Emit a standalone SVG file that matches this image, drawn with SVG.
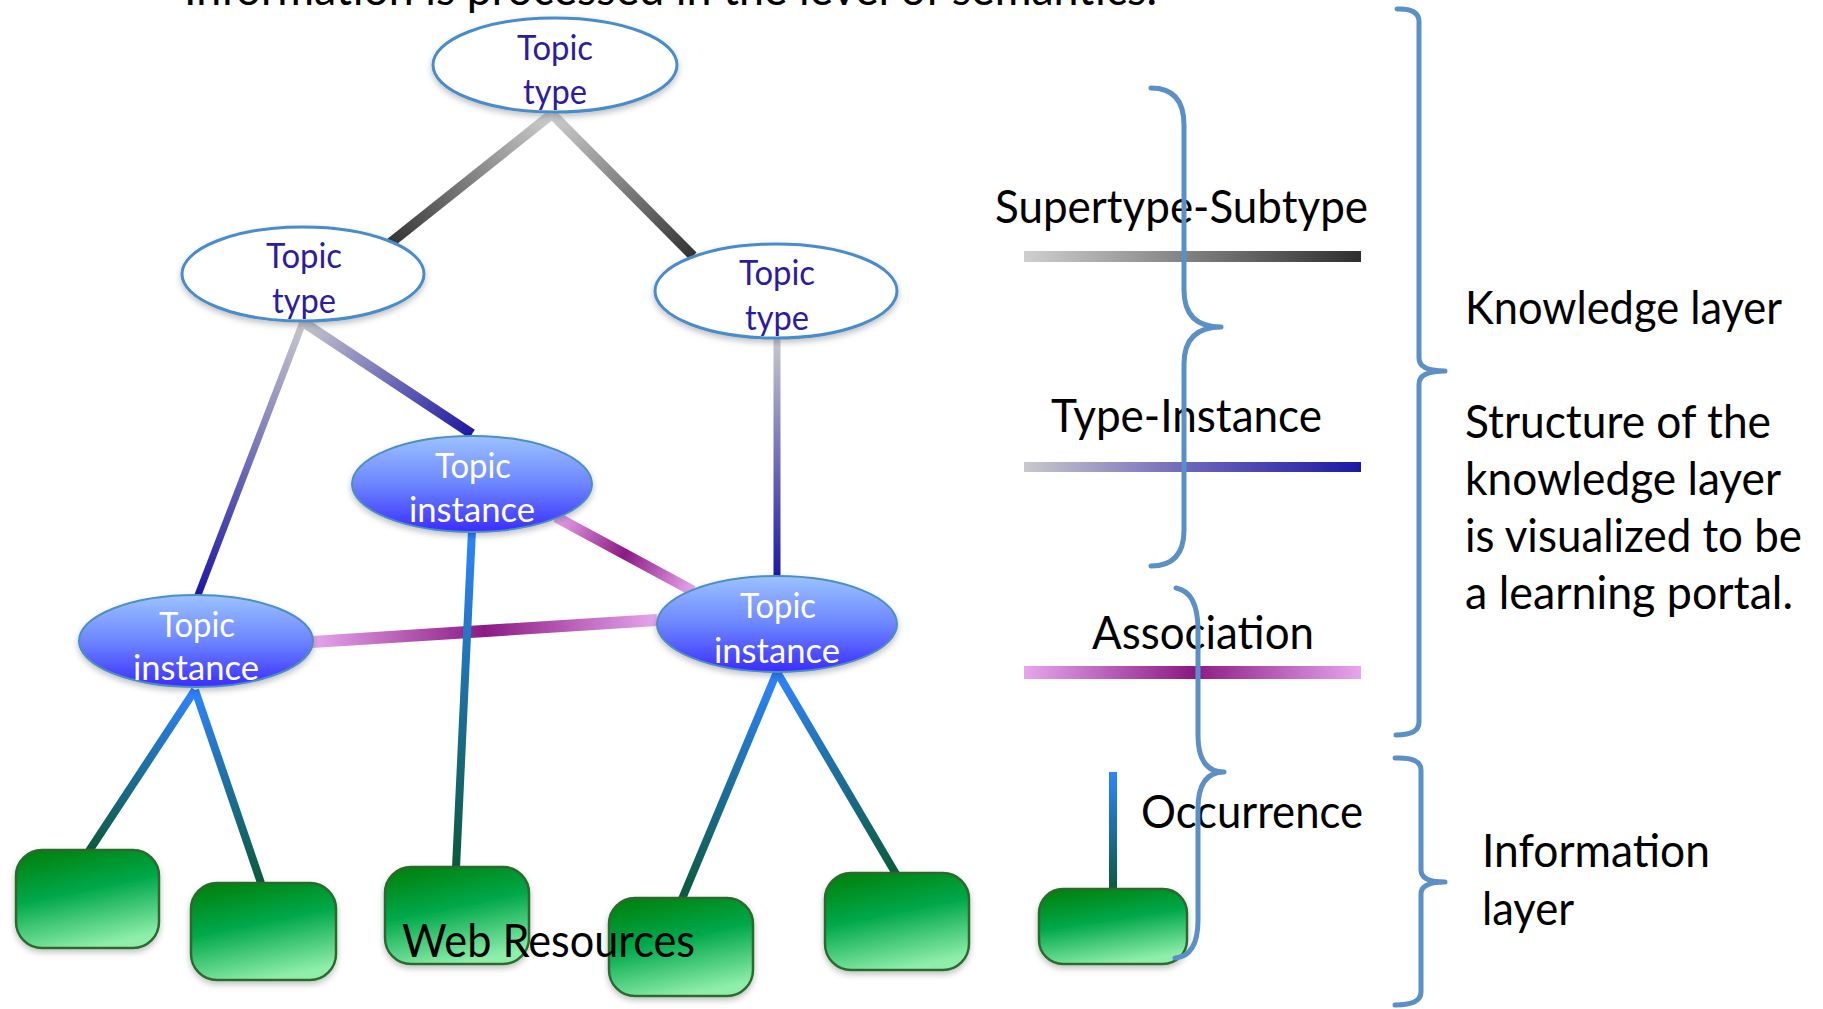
<svg xmlns="http://www.w3.org/2000/svg" width="1823" height="1009" viewBox="0 0 1823 1009">
<style>
  .t { font-family: Lato, "Open Sans", "Liberation Sans", sans-serif; }
  .big { font-size: 47px; fill: #000; }
  .lbl { font-size: 34px; text-anchor: middle; }
  .typ { fill: #2a1d9e; }
  .ins { fill: #ffffff; }
  .typeEl { fill: #ffffff; stroke: #4a8ccb; stroke-width: 3; }
  .instEl { fill: url(#instFill); stroke: #4d8fc0; stroke-width: 2; }
  .box { fill: url(#boxFill); stroke: #2c6b2f; stroke-width: 2.5; }
  .brace { fill: none; stroke: #5b8fc8; stroke-width: 5; stroke-linecap: round; stroke-linejoin: round; }
  .ln { fill: none; }
</style>
<defs>
  <filter id="sh" x="-20%" y="-20%" width="140%" height="150%">
    <feDropShadow dx="0" dy="3" stdDeviation="3" flood-color="#000" flood-opacity="0.25"/>
  </filter>
  <linearGradient id="instFill" x1="0" y1="0" x2="0" y2="1">
    <stop offset="0" stop-color="#9cc2ff"/>
    <stop offset="0.5" stop-color="#6c86ff"/>
    <stop offset="1" stop-color="#3a2cff"/>
  </linearGradient>
  <linearGradient id="boxFill" x1="0.2" y1="0" x2="0.5" y2="1">
    <stop offset="0" stop-color="#00820f"/>
    <stop offset="0.45" stop-color="#00a84a"/>
    <stop offset="1" stop-color="#8eeeaa"/>
  </linearGradient>
  <!-- legend bars -->
  <linearGradient id="legSup" x1="0" y1="0" x2="1" y2="0">
    <stop offset="0" stop-color="#cfcfcf"/>
    <stop offset="1" stop-color="#2e2e2e"/>
  </linearGradient>
  <linearGradient id="legTI" x1="0" y1="0" x2="1" y2="0">
    <stop offset="0" stop-color="#c8c8cc"/>
    <stop offset="0.5" stop-color="#6a64b8"/>
    <stop offset="1" stop-color="#1c18a4"/>
  </linearGradient>
  <linearGradient id="legAs" x1="0" y1="0" x2="1" y2="0">
    <stop offset="0" stop-color="#e6a6ec"/>
    <stop offset="0.5" stop-color="#8c1a84"/>
    <stop offset="1" stop-color="#e6a6ec"/>
  </linearGradient>
  <linearGradient id="legOc" x1="0" y1="0" x2="0" y2="1">
    <stop offset="0" stop-color="#2f84ff"/>
    <stop offset="1" stop-color="#0b5a3c"/>
  </linearGradient>
  <!-- connector gradients -->
  <linearGradient id="gS1" gradientUnits="userSpaceOnUse" x1="552" y1="114" x2="389" y2="244">
    <stop offset="0" stop-color="#cfcfcf"/><stop offset="1" stop-color="#333"/>
  </linearGradient>
  <linearGradient id="gS2" gradientUnits="userSpaceOnUse" x1="552" y1="114" x2="693" y2="256">
    <stop offset="0" stop-color="#cfcfcf"/><stop offset="1" stop-color="#333"/>
  </linearGradient>
  <linearGradient id="gT1" gradientUnits="userSpaceOnUse" x1="303" y1="322" x2="198" y2="595">
    <stop offset="0" stop-color="#c8c8cc"/><stop offset="1" stop-color="#1c18a4"/>
  </linearGradient>
  <linearGradient id="gT2" gradientUnits="userSpaceOnUse" x1="303" y1="322" x2="472" y2="434">
    <stop offset="0" stop-color="#c8c8cc"/><stop offset="1" stop-color="#1c18a4"/>
  </linearGradient>
  <linearGradient id="gT3" gradientUnits="userSpaceOnUse" x1="777" y1="339" x2="777" y2="577">
    <stop offset="0" stop-color="#c8c8cc"/><stop offset="1" stop-color="#1c18a4"/>
  </linearGradient>
  <linearGradient id="gA1" gradientUnits="userSpaceOnUse" x1="556" y1="517" x2="693" y2="591">
    <stop offset="0" stop-color="#e6a6ec"/><stop offset="0.5" stop-color="#8c1a84"/><stop offset="1" stop-color="#e6a6ec"/>
  </linearGradient>
  <linearGradient id="gA2" gradientUnits="userSpaceOnUse" x1="312" y1="642" x2="657" y2="620">
    <stop offset="0" stop-color="#e6a6ec"/><stop offset="0.5" stop-color="#8c1a84"/><stop offset="1" stop-color="#e6a6ec"/>
  </linearGradient>
  <linearGradient id="gO1" gradientUnits="userSpaceOnUse" x1="195" y1="690" x2="89" y2="851">
    <stop offset="0" stop-color="#2f84ff"/><stop offset="1" stop-color="#0b5a3c"/>
  </linearGradient>
  <linearGradient id="gO2" gradientUnits="userSpaceOnUse" x1="195" y1="690" x2="261" y2="883">
    <stop offset="0" stop-color="#2f84ff"/><stop offset="1" stop-color="#0b5a3c"/>
  </linearGradient>
  <linearGradient id="gO3" gradientUnits="userSpaceOnUse" x1="472" y1="530" x2="456" y2="868">
    <stop offset="0" stop-color="#2f84ff"/><stop offset="1" stop-color="#0b5a3c"/>
  </linearGradient>
  <linearGradient id="gO4" gradientUnits="userSpaceOnUse" x1="777" y1="672" x2="682" y2="899">
    <stop offset="0" stop-color="#2f84ff"/><stop offset="1" stop-color="#0b5a3c"/>
  </linearGradient>
  <linearGradient id="gO5" gradientUnits="userSpaceOnUse" x1="777" y1="672" x2="896" y2="874">
    <stop offset="0" stop-color="#2f84ff"/><stop offset="1" stop-color="#0b5a3c"/>
  </linearGradient>
</defs>

<rect x="0" y="0" width="1823" height="1009" fill="#ffffff"/>

<text class="t big" x="184" y="5" textLength="973" lengthAdjust="spacingAndGlyphs">Information is processed in the level of semantics.</text>

<g id="connectors">
  <line class="ln" x1="552" y1="114" x2="389" y2="244" stroke="url(#gS1)" stroke-width="10"/>
  <line class="ln" x1="552" y1="114" x2="693" y2="256" stroke="url(#gS2)" stroke-width="10"/>
  <line class="ln" x1="303" y1="322" x2="198" y2="595" stroke="url(#gT1)" stroke-width="7"/>
  <line class="ln" x1="303" y1="322" x2="472" y2="434" stroke="url(#gT2)" stroke-width="10"/>
  <line class="ln" x1="777" y1="339" x2="777" y2="577" stroke="url(#gT3)" stroke-width="7"/>
  <line class="ln" x1="556" y1="517" x2="693" y2="591" stroke="url(#gA1)" stroke-width="11"/>
  <line class="ln" x1="312" y1="642" x2="657" y2="620" stroke="url(#gA2)" stroke-width="12"/>
  <line class="ln" x1="195" y1="690" x2="89" y2="851" stroke="url(#gO1)" stroke-width="8"/>
  <line class="ln" x1="195" y1="690" x2="261" y2="883" stroke="url(#gO2)" stroke-width="8"/>
  <line class="ln" x1="472" y1="530" x2="456" y2="868" stroke="url(#gO3)" stroke-width="8"/>
  <line class="ln" x1="777" y1="672" x2="682" y2="899" stroke="url(#gO4)" stroke-width="8"/>
  <line class="ln" x1="777" y1="672" x2="896" y2="874" stroke="url(#gO5)" stroke-width="8"/>
</g>

<g id="type-top">
  <ellipse class="typeEl" cx="555" cy="65" rx="122" ry="47" filter="url(#sh)"/>
  <text class="t lbl typ" x="555" y="60" textLength="76" lengthAdjust="spacingAndGlyphs">Topic</text>
  <text class="t lbl typ" x="555" y="104" textLength="64" lengthAdjust="spacingAndGlyphs">type</text>
</g>
<g id="type-left">
  <ellipse class="typeEl" cx="303" cy="274" rx="121" ry="47" filter="url(#sh)"/>
  <text class="t lbl typ" x="304" y="268" textLength="76" lengthAdjust="spacingAndGlyphs">Topic</text>
  <text class="t lbl typ" x="304" y="313" textLength="64" lengthAdjust="spacingAndGlyphs">type</text>
</g>
<g id="type-right">
  <ellipse class="typeEl" cx="776" cy="291" rx="121" ry="47" filter="url(#sh)"/>
  <text class="t lbl typ" x="777" y="285" textLength="76" lengthAdjust="spacingAndGlyphs">Topic</text>
  <text class="t lbl typ" x="777" y="330" textLength="64" lengthAdjust="spacingAndGlyphs">type</text>
</g>

<g id="instance-middle">
  <ellipse class="instEl" cx="472" cy="484" rx="120" ry="48" filter="url(#sh)"/>
  <text class="t lbl ins" x="473" y="478" textLength="76" lengthAdjust="spacingAndGlyphs">Topic</text>
  <text class="t lbl ins" x="472" y="522" textLength="126" lengthAdjust="spacingAndGlyphs">instance</text>
</g>
<g id="instance-left">
  <ellipse class="instEl" cx="196" cy="641" rx="117" ry="46" filter="url(#sh)"/>
  <text class="t lbl ins" x="197" y="637" textLength="76" lengthAdjust="spacingAndGlyphs">Topic</text>
  <text class="t lbl ins" x="196" y="680" textLength="126" lengthAdjust="spacingAndGlyphs">instance</text>
</g>
<g id="instance-right">
  <ellipse class="instEl" cx="777" cy="624" rx="120" ry="48" filter="url(#sh)"/>
  <text class="t lbl ins" x="778" y="618" textLength="76" lengthAdjust="spacingAndGlyphs">Topic</text>
  <text class="t lbl ins" x="777" y="663" textLength="126" lengthAdjust="spacingAndGlyphs">instance</text>
</g>

<g id="web-1"><rect class="box" x="16" y="850" width="143" height="98" rx="26" filter="url(#sh)"/></g>
<g id="web-2"><rect class="box" x="191" y="883" width="145" height="97" rx="26" filter="url(#sh)"/></g>
<g id="web-3"><rect class="box" x="385" y="867" width="144" height="97" rx="26" filter="url(#sh)"/></g>
<g id="web-4"><rect class="box" x="609" y="898" width="144" height="98" rx="26" filter="url(#sh)"/></g>
<g id="web-5"><rect class="box" x="825" y="873" width="144" height="97" rx="26" filter="url(#sh)"/></g>

<text class="t big" x="402" y="957" textLength="293" lengthAdjust="spacingAndGlyphs">Web Resources</text>

<g id="legend">
  <text class="t big" x="995" y="223" textLength="373" lengthAdjust="spacingAndGlyphs">Supertype-Subtype</text>
  <rect x="1024" y="251" width="337" height="11" fill="url(#legSup)"/>
  <text class="t big" x="1051" y="432" textLength="271" lengthAdjust="spacingAndGlyphs">Type-Instance</text>
  <rect x="1024" y="462" width="337" height="10" fill="url(#legTI)"/>
  <text class="t big" x="1092" y="649" textLength="222" lengthAdjust="spacingAndGlyphs">Association</text>
  <rect x="1024" y="666" width="337" height="13" fill="url(#legAs)"/>
  <rect x="1109" y="772" width="8" height="118" fill="url(#legOc)"/>
  <text class="t big" x="1141" y="828" textLength="222" lengthAdjust="spacingAndGlyphs">Occurrence</text>
  <g id="web-legend"><rect class="box" x="1039" y="889" width="148" height="75" rx="24" filter="url(#sh)"/></g>
</g>

<g id="braces">
  <path class="brace" d="M1397,9 Q1419,8 1419,22 L1419,358 Q1419,371 1445,371 Q1419,371 1419,384 L1419,722 Q1419,735 1396,735"/>
  <path class="brace" d="M1151,88 Q1184,88 1184,125 L1184,290 Q1184,327 1221,327 Q1184,327 1184,364 L1184,530 Q1184,566 1151,566"/>
  <path class="brace" d="M1176,588 Q1198,592 1198,630 L1198,735 Q1198,772 1224,772 Q1198,772 1198,809 L1198,920 Q1198,956 1175,958"/>
  <path class="brace" d="M1395,758 Q1421,757 1421,770 L1421,870 Q1421,882 1445,882 Q1421,882 1421,894 L1421,992 Q1421,1005 1395,1005"/>
</g>

<g id="layer-text">
  <text class="t big" x="1465" y="324" textLength="317" lengthAdjust="spacingAndGlyphs">Knowledge layer</text>
  <text class="t big" x="1465" y="438" textLength="306" lengthAdjust="spacingAndGlyphs">Structure of the</text>
  <text class="t big" x="1465" y="495" textLength="316" lengthAdjust="spacingAndGlyphs">knowledge layer</text>
  <text class="t big" x="1465" y="552" textLength="337" lengthAdjust="spacingAndGlyphs">is visualized to be</text>
  <text class="t big" x="1465" y="609" textLength="328" lengthAdjust="spacingAndGlyphs">a learning portal.</text>
  <text class="t big" x="1482" y="867" textLength="228" lengthAdjust="spacingAndGlyphs">Information</text>
  <text class="t big" x="1482" y="925" textLength="92" lengthAdjust="spacingAndGlyphs">layer</text>
</g>
</svg>
